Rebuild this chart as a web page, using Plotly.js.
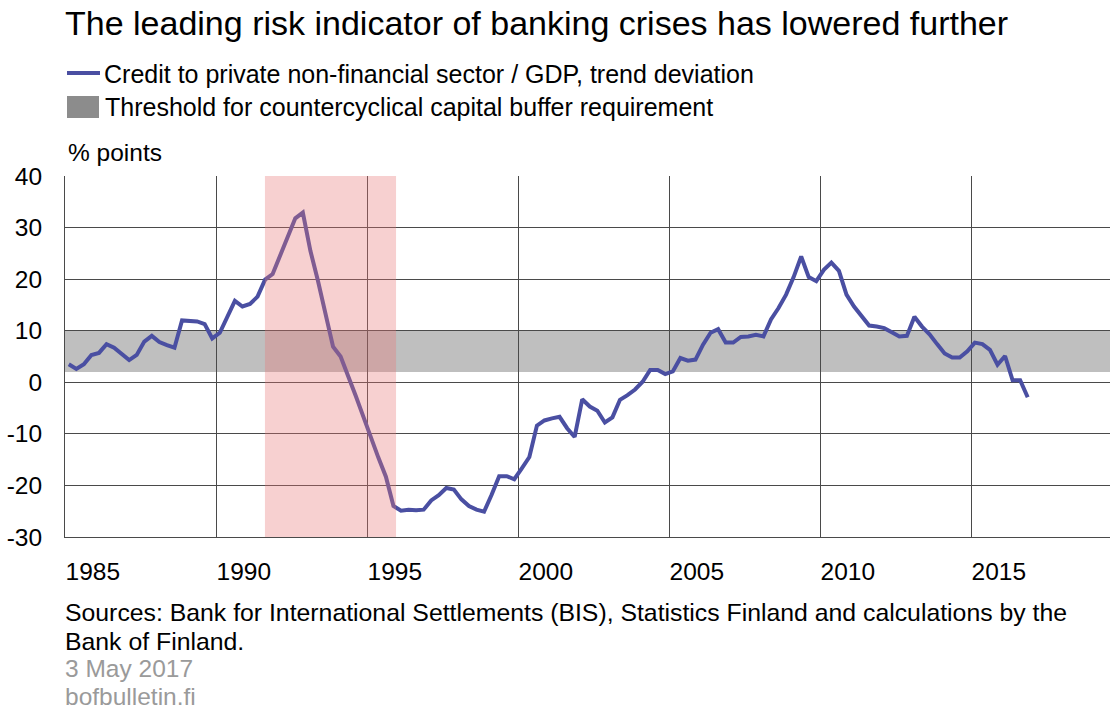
<!DOCTYPE html>
<html>
<head>
<meta charset="utf-8">
<script src="https://cdn.plot.ly/plotly-3.0.1.min.js"></script>
<style>
html,body{margin:0;padding:0;background:#fff;}
#chart{width:1110px;height:711px;}
</style>
</head>
<body>
<div id="chart"></div>
<script>
// ---- Data (quarterly, 1985Q1 .. 2016Q4) ----
var startYear = 1985;
var creditGap = [
  3.5, 2.6, 3.5, 5.3,   5.7, 7.4, 6.7, 5.6,   4.3, 5.3, 7.9, 9.0,   7.8, 7.2, 6.7, 12.0,
  11.9, 11.8, 11.3, 8.5,   9.6, 12.8, 15.8, 14.7,   15.2, 16.6, 19.9, 21.0,   24.6, 28.6, 31.8, 32.9,
  25.5, 19.7, 13.7, 6.9,   5.0, 1.4, -2.6, -6.6,   -10.9, -14.6, -18.3, -24.0,   -24.9, -24.7, -24.8, -24.7,
  -22.9, -21.9, -20.5, -20.8,   -22.7, -24.0, -24.7, -25.1,   -21.8, -18.2, -18.2, -18.8,   -16.7, -14.5, -8.4, -7.4,
  -7.0, -6.7, -8.9, -10.6,   -3.3, -4.7, -5.5, -7.8,   -6.8, -3.4, -2.5, -1.4,   0.1, 2.4, 2.4, 1.6,
  2.1, 4.7, 4.2, 4.4,   7.3, 9.6, 10.3, 7.7,   7.7, 8.8, 8.9, 9.2,   8.9, 12.2, 14.4, 17.0,
  20.4, 24.4, 20.4, 19.6,   21.8, 23.2, 21.6, 17.0,   14.7, 12.8, 11.0, 10.8,   10.5, 9.7, 8.9, 9.0,
  12.7, 10.8, 9.3, 7.4,   5.6, 4.8, 4.8, 6.0,   7.7, 7.4, 6.3, 3.4,   5.1, 0.4, 0.4, -2.9
];
var thresholdLow = 2;
var thresholdHigh = 10;
var crisisStart = 1991.62;
var crisisEnd = 1995.96;
var yearTicks = [1985, 1990, 1995, 2000, 2005, 2010, 2015];
var yTicks = [-30, -20, -10, 0, 10, 20, 30, 40];
var yTickLabels = ['-30', '-20', '-10', '0', '10', '20', '30', '40'];

var seriesName = 'Credit to private non-financial sector / GDP, trend deviation';
var bandName = 'Threshold for countercyclical capital buffer requirement';
var titleText = 'The leading risk indicator of banking crises has lowered further';
var unitText = '% points';
var sourceLines = ['Sources: Bank for International Settlements (BIS), Statistics Finland and calculations by the', 'Bank of Finland.'];
var dateText = '3 May 2017';
var siteText = 'bofbulletin.fi';

// quarter mid-points as decimal years
var xq = creditGap.map(function (v, i) { return startYear + (i + 0.5) / 4; });

// ---- Layout helpers (pixel -> paper) ----
var W = 1110, H = 711;
var mL = 65, mR = 0, mT = 176, mB = 174;
var pw = W - mL - mR, ph = H - mT - mB;
function px(x) { return (x - mL) / pw; }
function py(y) { return (H - mB - y) / ph; }

var FONT = 'Liberation Sans, Arial, Helvetica, sans-serif';
var lineColor = '#4a4fa2';
var gridColor = '#4a4a4a';

var traces = [{
  x: xq, y: creditGap, type: 'scatter', mode: 'lines',
  name: seriesName, showlegend: false,
  line: { color: lineColor, width: 4 },
  hoverinfo: 'x+y'
}];

function txt(t, x, y, size, color) {
  return {
    text: t, xref: 'paper', yref: 'paper', x: px(x), y: py(y),
    xanchor: 'left', yanchor: 'middle', showarrow: false,
    font: { family: FONT, size: size, color: color }
  };
}

var layout = {
  width: W, height: H,
  margin: { l: mL, r: mR, t: mT, b: mB, pad: 0 },
  paper_bgcolor: '#ffffff', plot_bgcolor: '#ffffff',
  showlegend: false,
  font: { family: FONT, size: 24, color: '#000' },
  xaxis: {
    range: [1985, 2019.6], tickvals: yearTicks, ticktext: yearTicks.map(String),
    showgrid: true, gridcolor: gridColor, gridwidth: 1,
    showline: true, linecolor: gridColor, linewidth: 1,
    zeroline: false, ticks: '', ticklabelposition: 'outside right', ticklabelstandoff: 13,
    tickfont: { family: FONT, size: 24.5, color: '#000' },
    fixedrange: true
  },
  yaxis: {
    range: [-30, 40], tickvals: yTicks, ticktext: yTickLabels,
    showgrid: true, gridcolor: gridColor, gridwidth: 1,
    showline: true, linecolor: gridColor, linewidth: 1,
    zeroline: false, ticks: '', ticklabelstandoff: 17,
    tickfont: { family: FONT, size: 24.5, color: '#000' },
    fixedrange: true
  },
  shapes: [
    { type: 'rect', xref: 'paper', yref: 'y', x0: 0, x1: 1, y0: thresholdLow, y1: thresholdHigh,
      fillcolor: '#bfbfbf', line: { width: 0 }, layer: 'below' },
    { type: 'rect', xref: 'x', yref: 'paper', x0: crisisStart, x1: crisisEnd, y0: 0, y1: 1,
      fillcolor: 'rgba(232,118,118,0.34)', line: { width: 0 }, layer: 'above' },
    // custom legend symbols
    { type: 'line', xref: 'paper', yref: 'paper', x0: px(67), x1: px(100), y0: py(73), y1: py(73),
      line: { color: lineColor, width: 4 } },
    { type: 'rect', xref: 'paper', yref: 'paper', x0: px(67), x1: px(99), y0: py(118), y1: py(96),
      fillcolor: '#8c8c8c', line: { width: 0 } }
  ],
  annotations: [
    txt(titleText, 63, 23, 34, '#000'),
    txt(seriesName, 102, 74, 25, '#000'),
    txt(bandName, 103, 107, 25, '#000'),
    txt(unitText, 66, 153, 24.5, '#000'),
    txt(sourceLines[0], 63, 612, 24.8, '#000'),
    txt(sourceLines[1], 63, 641, 24.8, '#000'),
    txt(dateText, 63, 668, 24.5, '#9a9a9a'),
    txt(siteText, 63, 696, 24.5, '#9a9a9a')
  ]
};

Plotly.newPlot('chart', traces, layout, { displayModeBar: false, responsive: false });
</script>
</body>
</html>
